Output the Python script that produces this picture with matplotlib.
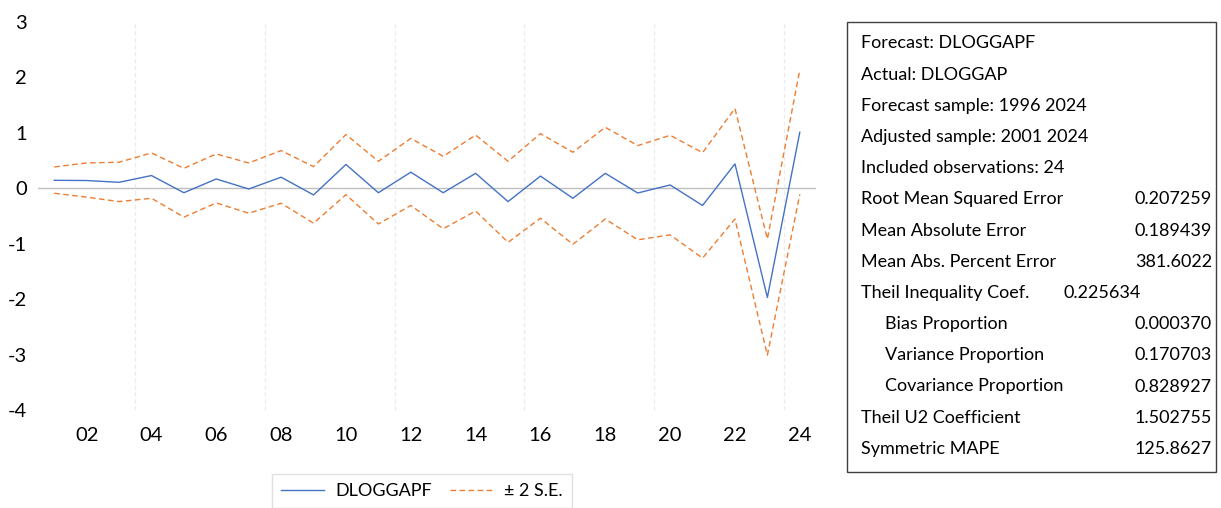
import matplotlib
matplotlib.use('Agg')
from matplotlib import pyplot as plt
from matplotlib.patches import Rectangle
from matplotlib.lines import Line2D

plt.rcParams['font.family'] = ['Lato', 'DejaVu Sans']
plt.rcParams['axes.unicode_minus'] = False

years = list(range(2001, 2025))
forecast = [0.144, 0.14, 0.108, 0.23, -0.08, 0.168, -0.013, 0.2, -0.12, 0.43, -0.08, 0.29,
            -0.08, 0.27, -0.24, 0.22, -0.18, 0.27, -0.085, 0.06, -0.31, 0.44, -1.97, 1.01]
upper = [0.385, 0.457, 0.47, 0.637, 0.36, 0.62, 0.457, 0.68, 0.39, 0.97, 0.487, 0.90,
         0.577, 0.96, 0.487, 0.986, 0.65, 1.10, 0.77, 0.956, 0.643, 1.44, -0.915, 2.135]
lower = [-0.09, -0.16, -0.24, -0.18, -0.52, -0.265, -0.45, -0.27, -0.63, -0.115, -0.644, -0.31,
         -0.73, -0.41, -0.975, -0.54, -1.01, -0.554, -0.93, -0.84, -1.26, -0.554, -3.01, -0.11]

tick_years = list(range(2002, 2025, 2))
tick_labels = ['%02d' % (y % 100) for y in tick_years]

stat_names = ['Forecast: DLOGGAPF', 'Actual: DLOGGAP', 'Forecast sample: 1996 2024',
              'Adjusted sample: 2001 2024', 'Included observations: 24',
              'Root Mean Squared Error', 'Mean Absolute Error', 'Mean Abs. Percent Error',
              'Theil Inequality Coef.', 'Bias Proportion', 'Variance Proportion',
              'Covariance Proportion', 'Theil U2 Coefficient', 'Symmetric MAPE']
stat_values = ['', '', '', '', '', '0.207259', '0.189439', '381.6022', '0.225634',
               '0.000370', '0.170703', '0.828927', '1.502755', '125.8627']
indented = [False] * 9 + [True] * 3 + [False] * 2

W, H = 1221, 508
fig = plt.figure(figsize=(W / 100, H / 100), dpi=100)
ax = fig.add_axes([38 / W, (H - 410) / H, (816 - 38) / W, (410 - 22) / H])

blue = '#4472C4'
orange = '#ED7D31'

ax.axhline(0, color='#bfbfbf', lw=1, zorder=1)
ax.plot(years, forecast, color=blue, lw=1, zorder=3)
ax.plot(years, upper, color=orange, lw=1, ls=(0, (4, 2.5)), zorder=2)
ax.plot(years, lower, color=orange, lw=1, ls=(0, (4, 2.5)), zorder=2)

ax.set_xlim(2000.5, 2024.5)
ax.set_ylim(-4, 3)
ax.set_yticks(range(-4, 4))
ax.set_xticks(tick_years)
ax.set_xticklabels(tick_labels)
ax.set_xticks([2003.5, 2007.5, 2011.5, 2015.5, 2019.5, 2023.5], minor=True)
ax.grid(True, which='minor', axis='x', color='#ebebeb', ls=(0, (3, 2)), lw=1)
ax.tick_params(which='both', length=0, labelsize=14.5)
ax.tick_params(axis='y', pad=8)
ax.tick_params(axis='x', pad=12)
for s in ax.spines.values():
    s.set_visible(False)

# legend
handles = [Line2D([], [], color=blue, lw=1),
           Line2D([], [], color=orange, lw=1, ls=(0, (4, 2.5)))]
leg = fig.legend(handles, ['DLOGGAPF', '± 2 S.E.'], loc='upper left',
                 bbox_to_anchor=(272 / W, 1 - 474 / H), ncol=2, fontsize=13,
                 frameon=True, fancybox=False, edgecolor='#d9d9d9',
                 handlelength=2.4, handletextpad=0.6, columnspacing=1.0,
                 borderpad=0.5, borderaxespad=0)
leg.get_frame().set_linewidth(1)

# stats box
fig.patches.append(Rectangle((847 / W, 1 - 472 / H), (1216 - 847) / W, (472 - 22) / H,
                             transform=fig.transFigure, fill=False, edgecolor='#404040', lw=1))
for i, (name, val) in enumerate(zip(stat_names, stat_values)):
    y = 1 - (43.3 + i * 31.2) / H
    x = 885 if indented[i] else 861
    fig.text(x / W, y, name, fontsize=13, va='center', ha='left')
    if name.startswith('Theil Inequality'):
        fig.text(1064 / W, y, val, fontsize=13, va='center', ha='left')
    elif val:
        fig.text(1212 / W, y, val, fontsize=13, va='center', ha='right')

fig.savefig('out.png', dpi=100)
